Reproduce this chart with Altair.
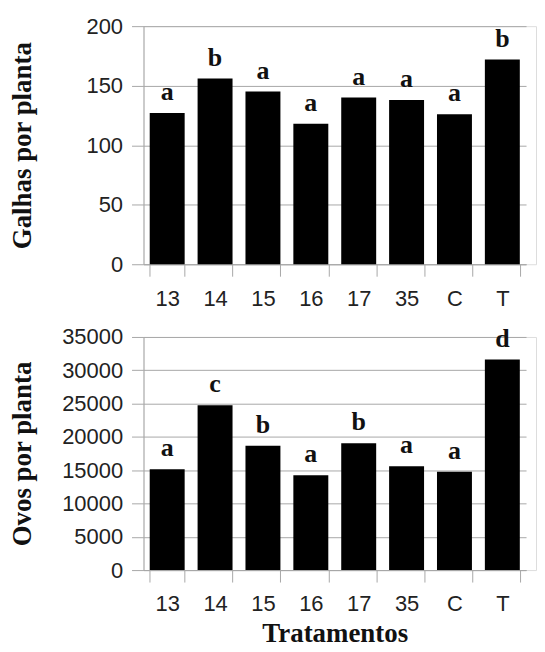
import altair as alt
import pandas as pd

tratamentos = ["13", "14", "15", "16", "17", "35", "C", "T"]
galhas = [127, 156, 145, 118, 140, 138, 126, 172]
letras_galhas = ["a", "b", "a", "a", "a", "a", "a", "b"]
ovos = [15150, 24750, 18650, 14250, 19050, 15600, 14750, 31600]
letras_ovos = ["a", "c", "b", "a", "b", "a", "a", "d"]

df_g = pd.DataFrame({"trat": tratamentos, "valor": galhas, "letra": letras_galhas})
df_o = pd.DataFrame({"trat": tratamentos, "valor": ovos, "letra": letras_ovos})

GRID = "#a8a8a8"
LABEL_FONT = "Liberation Sans"
SERIF = "Liberation Serif"

def panel(df, ytitle, ymax, ystep, height, xtitle=None):
    x_axis = alt.Axis(
        title=xtitle,
        labelAngle=0,
        labelFont=LABEL_FONT,
        labelFontSize=22,
        labelColor="#222222",
        labelPadding=12,
        tickBand="extent",
        tickSize=12,
        tickColor=GRID,
        domainColor=GRID,
        grid=False,
        titleFont=SERIF,
        titleFontSize=27,
        titleFontWeight="bold",
        titleColor="#111111",
        titlePadding=6,
    )
    y_axis = alt.Axis(
        title=ytitle,
        values=list(range(0, ymax + 1, ystep)),
        format="d",
        labelFont=LABEL_FONT,
        labelFontSize=22,
        labelColor="#222222",
        labelPadding=9,
        tickSize=12,
        tickColor=GRID,
        domainColor=GRID,
        gridColor=GRID,
        gridOpacity=1,
        titleFont=SERIF,
        titleFontSize=27,
        titleFontWeight="bold",
        titleColor="#111111",
        titleX=-121,
        titleBaseline="middle",
    )
    x = alt.X("trat:N", sort=tratamentos, axis=x_axis,
              scale=alt.Scale(paddingInner=0.27, paddingOuter=0.13, range=[0, 384]))
    y = alt.Y("valor:Q", axis=y_axis, scale=alt.Scale(domain=[0, ymax], nice=False))
    base = alt.Chart(df).encode(x=x, y=y)
    bars = base.mark_bar(color="#000000")
    text = base.mark_text(
        baseline="bottom", dy=-8, font=SERIF, fontSize=26, fontWeight="bold", color="#111111"
    ).encode(text="letra:N")
    return (bars + text).properties(width=394, height=height)

top = panel(df_g, "Galhas por planta", 200, 50, 239)
bottom = panel(df_o, "Ovos por planta", 35000, 5000, 234, xtitle="Tratamentos")

chart = alt.vconcat(top, bottom, spacing=15).properties(
    padding={"left": 0, "top": 5, "right": 0, "bottom": 0}
).configure_view(stroke=None).configure(background="white")

chart.save("out.html", embed_options={"renderer": "svg", "actions": False})
